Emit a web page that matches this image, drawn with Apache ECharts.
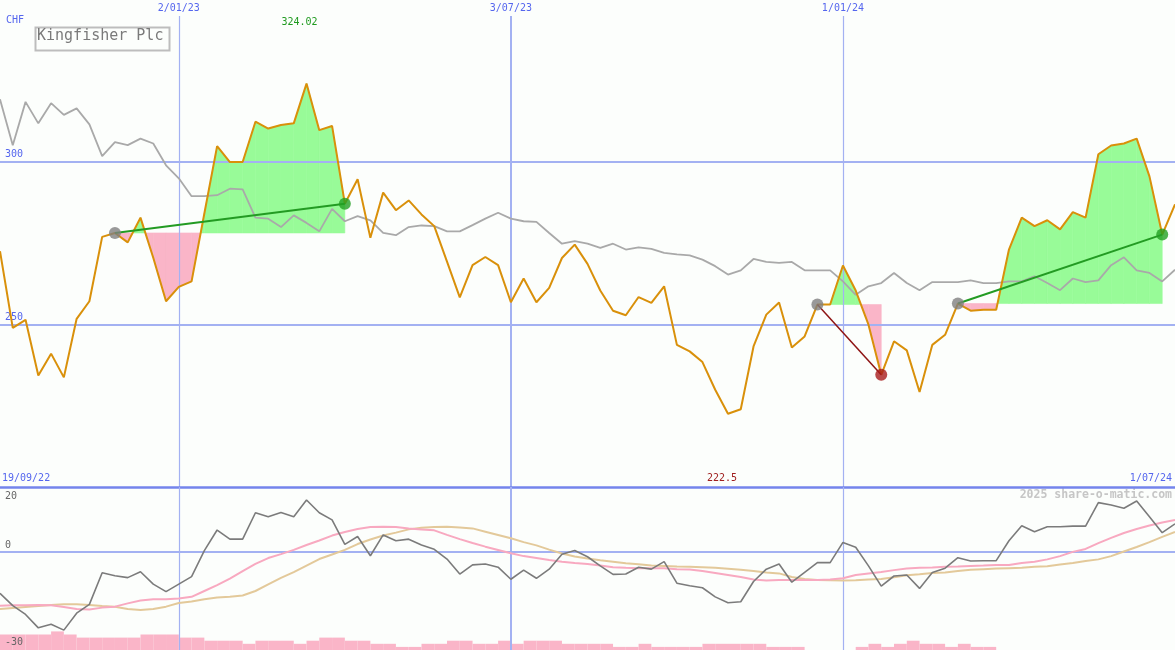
<!DOCTYPE html>
<html><head><meta charset="utf-8">
<script src="https://cdn.jsdelivr.net/npm/echarts@6/dist/echarts.min.js"></script>
<style>html,body{margin:0;padding:0;background:#fcfefc;}#c{width:1175px;height:650px;}</style>
</head><body><div id="c"></div>
<script>
// ---------- text / labels ----------
const titleText = 'Kingfisher Plc';
const currency = 'CHF';
const watermark = '2025 share-o-matic.com';
const rangeLabels = ['19/09/22', '1/07/24'];
const gridIdx = [14, 40, 66];
const gridLabels = ['2/01/23', '3/07/23', '1/01/24'];
const priceLevels = [300, 250];
const oscLevels = [20, 0, -30];

// ---------- data (weekly points, index 0..92) ----------
const price = [272.5,248.9,251.4,234.3,241.0,233.7,251.7,257.1,276.9,278.1,
  275.2,282.8,270.5,257.1,261.5,263.2,284.1,304.8,299.9,299.9,
  312.3,310.2,311.3,311.8,324.02,309.7,311.0,287.1,294.6,276.6,
  290.5,285.1,288.1,283.8,280.2,269.3,258.3,268.2,270.7,268.2,
  256.8,264.1,256.8,261.2,270.4,274.5,268.6,260.4,254.2,252.8,
  258.4,256.6,261.7,243.7,241.7,238.4,229.9,222.5,223.9,243.2,
  253.0,256.7,242.9,246.3,256.1,256.1,268.1,260.4,249.9,234.5,
  244.8,242.0,229.2,243.7,246.8,256.4,254.2,254.5,254.5,273.0,
  282.8,280.2,282.0,279.2,284.5,282.8,302.3,305.0,305.6,307.1,
  295.5,277.6,286.9];
const relative = [319.2,305.1,318.4,311.8,318.0,314.4,316.4,311.5,301.7,306.0,
  305.1,307.1,305.6,298.9,294.9,289.4,289.4,289.7,291.7,291.5,
  282.8,282.5,279.9,283.5,281.2,278.6,285.5,281.7,283.3,282.0,
  278.1,277.4,279.9,280.4,280.2,278.6,278.6,280.5,282.5,284.3,
  282.5,281.7,281.5,278.1,274.8,275.6,274.8,273.5,274.8,273.0,
  273.7,273.2,272.0,271.5,271.2,269.9,267.9,265.3,266.6,270.1,
  269.2,268.9,269.2,266.6,266.6,266.6,263.2,259.1,261.7,262.7,
  265.8,262.7,260.5,263.0,263.0,263.0,263.5,262.7,262.7,263.2,
  263.2,264.8,262.7,260.5,264.1,263.0,263.5,268.2,270.6,266.6,
  265.8,263.2,266.8];
const momentum = [-12.6,-16.4,-19.1,-23.2,-22.1,-23.9,-18.7,-16.0,-6.3,-7.2,
  -7.8,-6.0,-9.8,-12.1,-9.8,-7.5,0.5,6.8,4.0,4.0,
  12.1,10.9,12.2,10.9,16.0,12.1,9.9,2.4,4.8,-1.1,
  5.3,3.5,4.0,2.2,0.9,-2.1,-6.7,-3.9,-3.6,-4.6,
  -8.3,-5.5,-8.0,-5.2,-0.6,0.5,-1.4,-4.2,-6.8,-6.7,
  -4.6,-5.2,-2.9,-9.5,-10.3,-10.9,-13.7,-15.5,-15.2,-9.0,
  -5.2,-3.6,-9.2,-6.2,-3.2,-3.2,3.0,1.5,-4.2,-10.4,
  -7.3,-7.0,-11.1,-6.2,-4.9,-1.7,-2.7,-2.6,-2.6,3.5,
  8.1,6.3,7.8,7.8,8.0,8.0,15.2,14.5,13.5,15.7,
  10.9,6.0,8.7];
const maFast = [-16.4,-16.3,-16.3,-16.2,-16.3,-16.8,-17.4,-17.6,-17.0,-16.7,
  -15.7,-14.8,-14.4,-14.4,-14.2,-13.7,-11.9,-10.1,-8.1,-5.8,
  -3.6,-1.8,-0.6,0.7,2.2,3.6,5.1,6.2,7.1,7.7,
  7.8,7.7,7.3,7.0,6.7,5.3,4.0,2.8,1.7,0.7,
  -0.3,-1.2,-1.8,-2.4,-2.9,-3.3,-3.6,-4.1,-4.6,-4.8,
  -4.9,-4.9,-4.9,-5.2,-5.3,-5.8,-6.4,-7.0,-7.6,-8.4,
  -8.7,-8.5,-8.5,-8.5,-8.5,-8.4,-8.0,-7.0,-6.5,-6.1,
  -5.5,-5.0,-4.8,-4.7,-4.5,-4.4,-4.2,-4.1,-3.9,-3.9,
  -3.3,-2.9,-2.2,-1.2,0.1,1.0,2.8,4.4,5.9,7.1,
  8.2,9.1,9.9];
const maSlow = [-17.4,-17.1,-16.8,-16.5,-16.2,-16.0,-16.0,-16.2,-16.5,-16.7,
  -17.4,-17.7,-17.4,-16.7,-15.6,-15.1,-14.4,-13.9,-13.7,-13.3,
  -11.9,-9.9,-7.9,-6.1,-4.1,-2.1,-0.7,0.7,2.5,3.9,
  5.1,6.0,7.0,7.5,7.7,7.8,7.6,7.3,6.3,5.3,
  4.3,3.1,2.1,0.8,-0.4,-1.3,-1.9,-2.5,-2.9,-3.4,
  -3.7,-4.1,-4.2,-4.4,-4.5,-4.6,-4.8,-5.1,-5.4,-5.8,
  -6.2,-6.5,-7.6,-8.2,-8.5,-8.6,-8.7,-8.6,-8.4,-8.2,
  -7.7,-7.1,-6.8,-6.4,-6.2,-5.8,-5.4,-5.2,-5.0,-4.9,
  -4.8,-4.5,-4.3,-3.8,-3.3,-2.7,-2.2,-1.2,0.2,1.6,
  3.1,4.7,6.2];
const hist = [5,5,5,5,6,5,4,4,4,4, 4,5,5,5,4,4,3,3,3,2,
  3,3,3,2,3,4,4,3,3,2, 2,1,1,2,2,3,3,2,2,3,
  2,3,3,3,2,2,2,2,1,1, 2,1,1,1,1,2,2,2,2,2,
  1,1,1,0,0,0,0,1,2,1, 2,3,2,2,1,2,1,1,0,0,
  0,0,0,0,0,0,0,0,0,0, 0,0,0];
const tradeEntry = [9, 64, 75];
const tradeExit = [27, 69, 91];

// ---------- styles ----------
const C = {
  bg:'#fcfefc', grid:'#a3b1f2', sep:'#7484ec', blue:'#5566ee',
  orange:'#d9900a', gray:'#a9a9a9', mom:'#7b7b7b', maFast:'#f8a9c0', maSlow:'#e3c99a',
  green:'#98fb98', pink:'#fab5c8', dotGray:'#808080', dotGreen:'#23a023', dotRed:'#a81c1c',
  lineGreen:'#239b23', lineRed:'#8e1414'
};
const FONT = 'DejaVu Sans Mono';
const N = price.length;
const pairs = arr => arr.map((v, i) => [i, v]);

// fill segments for each trade
const fillData = [];
tradeEntry.forEach((e, k) => {
  const base = price[e];
  for (let i = e; i < tradeExit[k]; i++) fillData.push([i, i + 1, price[i], price[i + 1], base]);
});

let iMax = 0, iMin = 0;
price.forEach((v, i) => { if (v > price[iMax]) iMax = i; if (v < price[iMin]) iMin = i; });

const Y0MIN = 200, Y0MAX = 344.8;

const chart = echarts.init(document.getElementById('c'), null, {renderer:'canvas'});

const series = [];
// fills
series.push({
  type:'custom', xAxisIndex:0, yAxisIndex:0, z:1, silent:true,
  data: fillData, encode:{x:[0,1], y:[2,3,4]},
  renderItem(params, api) {
    const x0 = api.value(0), x1 = api.value(1), v0 = api.value(2), v1 = api.value(3), b = api.value(4);
    const P = (x, v) => api.coord([x, v]);
    const poly = (pts, col) => ({type:'polygon', shape:{points:pts}, style:{fill:col, stroke:col, lineWidth:0.6}});
    const d0 = v0 - b, d1 = v1 - b;
    const ch = [];
    if (d0 >= 0 && d1 >= 0) ch.push(poly([P(x0,b),P(x0,v0),P(x1,v1),P(x1,b)], C.green));
    else if (d0 <= 0 && d1 <= 0) ch.push(poly([P(x0,b),P(x0,v0),P(x1,v1),P(x1,b)], C.pink));
    else {
      const t = d0 / (d0 - d1), xc = x0 + t * (x1 - x0);
      ch.push(poly([P(x0,b),P(x0,v0),P(xc,b)], d0 > 0 ? C.green : C.pink));
      ch.push(poly([P(xc,b),P(x1,v1),P(x1,b)], d1 > 0 ? C.green : C.pink));
    }
    return {type:'group', children:ch};
  }
});
// relative line + main grid lines
series.push({
  type:'line', xAxisIndex:0, yAxisIndex:0, z:2, data:pairs(relative), showSymbol:false, silent:true,
  lineStyle:{color:C.gray, width:1.8},
  markLine:{
    z:1.5, silent:true, symbol:['none','none'], animation:false,
    data:[
      ...priceLevels.map(v => ({yAxis:v, lineStyle:{color:C.grid, width:2, type:'solid'},
        label:{show:true, formatter:String(v), position:'insideStartTop', distance:[5,2], color:C.blue, fontFamily:FONT, fontSize:10}})),
      ...gridIdx.map((x, k) => ({xAxis:x, lineStyle:{color:C.grid, width:k===1?2:1.2, type:'solid'},
        label:{show:true, formatter:gridLabels[k], position:'end', distance:3, color:C.blue, fontFamily:FONT, fontSize:10}}))
    ]
  }
});
// price line with max/min labels
series.push({
  type:'line', xAxisIndex:0, yAxisIndex:0, z:3, data:pairs(price), showSymbol:false, silent:true,
  lineStyle:{color:C.orange, width:2},
  markPoint:{
    symbol:'circle', symbolSize:1, itemStyle:{color:'rgba(0,0,0,0)'}, silent:true, animation:false,
    data:[
      {coord:[iMax, Y0MAX], value:price[iMax], label:{show:true, position:'bottom', distance:1, offset:[-7,0], color:'#1f9a1f', fontFamily:FONT, fontSize:10, formatter:String(price[iMax])}},
      {coord:[iMin, Y0MIN], value:price[iMin], label:{show:true, position:'top', distance:3, offset:[-6,0], color:'#a02020', fontFamily:FONT, fontSize:10, formatter:String(price[iMin])}}
    ]
  }
});
// trade connectors and dots
tradeEntry.forEach((e, k) => {
  const x = tradeExit[k];
  const win = price[x] > price[e];
  series.push({type:'line', xAxisIndex:0, yAxisIndex:0, z:4, silent:true, showSymbol:false,
    data:[[e, price[e]], [x, price[x]]],
    lineStyle:{color: win ? C.lineGreen : C.lineRed, width: win ? 2 : 1.5}});
});
series.push({type:'scatter', xAxisIndex:0, yAxisIndex:0, z:5, silent:true, symbolSize:12,
  data: tradeEntry.map(e => [e, price[e]]), itemStyle:{color:C.dotGray}});
series.push({type:'scatter', xAxisIndex:0, yAxisIndex:0, z:5, silent:true, symbolSize:12,
  data: tradeExit.map((x, k) => ({value:[x, price[x]], itemStyle:{color: price[x] > price[tradeEntry[k]] ? C.dotGreen : C.dotRed}}))});

// lower panel: histogram bars
series.push({
  type:'custom', xAxisIndex:1, yAxisIndex:2, z:1, silent:true,
  data: hist.map((v, i) => [i, v]).filter(d => d[1] > 0), encode:{x:0, y:1},
  renderItem(params, api) {
    const i = api.value(0), v = api.value(1);
    const a = api.coord([i, v]), b = api.coord([i + 1, 0]);
    return {type:'rect', shape:{x:a[0], y:a[1], width:b[0]-a[0], height:b[1]-a[1]}, style:{fill:C.pink}};
  }
});
series.push({type:'line', xAxisIndex:1, yAxisIndex:1, z:2, data:pairs(maSlow), showSymbol:false, silent:true,
  lineStyle:{color:C.maSlow, width:2}});
series.push({type:'line', xAxisIndex:1, yAxisIndex:1, z:2, data:pairs(maFast), showSymbol:false, silent:true,
  lineStyle:{color:C.maFast, width:2}});
series.push({type:'line', xAxisIndex:1, yAxisIndex:1, z:3, data:pairs(momentum), showSymbol:false, silent:true,
  lineStyle:{color:C.mom, width:1.6},
  markLine:{
    z:1.5, silent:true, symbol:['none','none'], animation:false,
    data:[
      {yAxis:oscLevels[0], lineStyle:{color:C.sep, width:2.5, type:'solid'},
        label:{show:true, formatter:String(oscLevels[0]), position:'insideStartBottom', distance:[5,4], color:'#666', fontFamily:FONT, fontSize:10}},
      {yAxis:oscLevels[1], lineStyle:{color:C.grid, width:2, type:'solid'},
        label:{show:true, formatter:String(oscLevels[1]), position:'insideStartTop', distance:[5,2], color:'#666', fontFamily:FONT, fontSize:10}},
      {yAxis:oscLevels[2], lineStyle:{color:'rgba(0,0,0,0)', width:0, type:'solid'},
        label:{show:true, formatter:String(oscLevels[2]), position:'insideStartTop', distance:[5,3], color:'#666', fontFamily:FONT, fontSize:10}},
      ...gridIdx.map((x, k) => ({xAxis:x, lineStyle:{color:C.grid, width:k===1?2:1.2, type:'solid'}, label:{show:false}}))
    ]
  }
});

chart.setOption({
  backgroundColor: C.bg,
  animation:false,
  grid:[
    {left:0, right:0, top:16, height:471},
    {left:0, right:0, top:487, height:163}
  ],
  xAxis:[
    {type:'value', gridIndex:0, min:0, max:N-1, show:false},
    {type:'value', gridIndex:1, min:0, max:N-1, show:false}
  ],
  yAxis:[
    {type:'value', gridIndex:0, min:Y0MIN, max:Y0MAX, show:false},
    {type:'value', gridIndex:1, min:-30, max:20, show:false},
    {type:'value', gridIndex:1, min:0, max:52.6, show:false}
  ],
  graphic:[
    {type:'rect', left:33, top:25, shape:{width:134, height:23}, style:{fill:'none', stroke:'#bdbdbd', lineWidth:2}, silent:true},
    {type:'text', left:37, top:29, style:{text:titleText, fill:'#7a7a7a', font:'15px "DejaVu Sans Mono"'}, silent:true},
    {type:'text', left:6, top:15, style:{text:currency, fill:C.blue, font:'10px "DejaVu Sans Mono"'}, silent:true},
    {type:'text', left:2, top:473, style:{text:rangeLabels[0], fill:C.blue, font:'10px "DejaVu Sans Mono"'}, silent:true},
    {type:'text', right:3, top:473, style:{text:rangeLabels[1], fill:C.blue, font:'10px "DejaVu Sans Mono"'}, silent:true},
    {type:'text', right:3, top:489, style:{text:watermark, fill:'#c6c6c6', font:'bold 11.5px "DejaVu Sans Mono"'}, silent:true}
  ],
  series
});
</script></body></html>
